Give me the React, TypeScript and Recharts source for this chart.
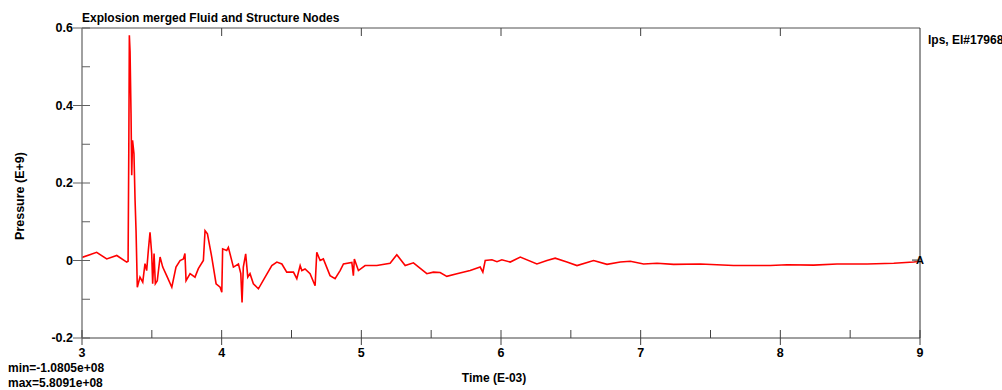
import React from 'react';
import { LineChart, Line, XAxis, YAxis, ReferenceDot } from 'recharts';

const titleText = 'Explosion merged Fluid and Structure Nodes';
const legendText = 'lps, El#17968';
const xLabel = 'Time (E-03)';
const yLabel = 'Pressure (E+9)';
const minText = 'min=-1.0805e+08';
const maxText = 'max=5.8091e+08';

const xTicks = [3, 3.5, 4, 4.5, 5, 5.5, 6, 6.5, 7, 7.5, 8, 8.5, 9];
const xTopTicks = [4, 5, 6, 7, 8];
const yTicks = [-0.2, -0.1, 0, 0.1, 0.2, 0.3, 0.4, 0.5, 0.6];

const time = [
  3.0, 3.105, 3.177, 3.249, 3.32, 3.33, 3.335, 3.339, 3.344, 3.351, 3.356, 3.362, 3.372, 3.38, 3.387, 3.396,
  3.415, 3.435, 3.451, 3.463, 3.475, 3.487, 3.499, 3.506, 3.516, 3.525, 3.539, 3.559, 3.578, 3.611, 3.643,
  3.673, 3.702, 3.726, 3.737, 3.745, 3.774, 3.809, 3.833, 3.869, 3.881, 3.898, 3.929, 3.96, 3.989, 4.001,
  4.007, 4.036, 4.048, 4.084, 4.12, 4.137, 4.146, 4.155, 4.172, 4.187, 4.203, 4.227, 4.263, 4.311, 4.359,
  4.395, 4.431, 4.466, 4.514, 4.538, 4.562, 4.574, 4.597, 4.633, 4.669, 4.681, 4.705, 4.728, 4.776, 4.812,
  4.848, 4.872, 4.932, 4.943, 4.95, 4.979, 5.027, 5.111, 5.206, 5.254, 5.314, 5.373, 5.469, 5.516, 5.564,
  5.612, 5.684, 5.779, 5.851, 5.87, 5.887, 5.935, 5.971, 6.006, 6.066, 6.138, 6.257, 6.329, 6.388, 6.472,
  6.544, 6.663, 6.759, 6.854, 6.926, 7.021, 7.117, 7.236, 7.427, 7.665, 7.928, 8.048, 8.238, 8.406, 8.621,
  8.812, 8.955, 9.0,
];

const pressure = [
  0.008, 0.021, 0.004, 0.013, -0.004, -0.002, 0.28, 0.581, 0.54, 0.38, 0.22, 0.31, 0.276, 0.155, 0.077, -0.069,
  -0.043, -0.056, -0.008, -0.026, 0.026, 0.073, 0.018, -0.06, 0.018, -0.06, -0.052, 0.009, -0.017, -0.043, -0.069,
  -0.017, 0.0, 0.004, 0.018, -0.052, -0.034, -0.043, -0.021, 0.0, 0.077, 0.069, 0.009, -0.06, -0.069, -0.082,
  0.03, 0.026, 0.034, -0.017, -0.009, -0.034, -0.108, -0.017, 0.017, -0.043, -0.034, -0.06, -0.073, -0.043, -0.013,
  -0.004, -0.009, -0.03, -0.03, -0.047, -0.013, -0.026, -0.022, -0.034, -0.065, 0.021, 0.0, 0.004, -0.039, -0.047,
  -0.026, -0.009, -0.005, -0.039, 0.004, -0.026, -0.013, -0.013, -0.007, 0.015, -0.013, -0.006, -0.034, -0.03, -0.031,
  -0.041, -0.034, -0.026, -0.017, -0.03, 0.0, 0.002, -0.003, 0.002, -0.004, 0.009, -0.009, 0.0, 0.006, -0.004,
  -0.013, 0.0, -0.01, -0.004, -0.002, -0.009, -0.007, -0.01, -0.009, -0.013, -0.013, -0.011, -0.012, -0.009, -0.009,
  -0.007, -0.004, -0.002,
];

const data = time.map((t, i) => ({ t, p: pressure[i] }));
const lastPoint = data[data.length - 1];

const FONT = '"Liberation Sans", Arial, sans-serif';

const BottomTick = (props: any) => {
  const { x, y, payload } = props;
  const v = payload.value;
  const major = Number.isInteger(v);
  return (
    <g>
      <line x1={x} x2={x} y1={y - 8} y2={major ? y + 7 : y} stroke="#404040" strokeWidth={1} />
      {major && (
        <text x={x} y={y + 19} textAnchor="middle" fontSize={12.5} fontWeight="bold" fontFamily={FONT} fill="#000">
          {v}
        </text>
      )}
    </g>
  );
};

const TopTick = (props: any) => {
  const { x, y } = props;
  return <line x1={x} x2={x} y1={y} y2={y + 8} stroke="#404040" strokeWidth={1} />;
};

const LeftTick = (props: any) => {
  const { x, y, payload } = props;
  const v = payload.value;
  const major = Math.abs(Math.round(v * 10)) % 2 === 0;
  const label = Math.abs(v) < 1e-9 ? '0' : v.toFixed(1);
  return (
    <g>
      <line x1={major ? x - 9 : x} x2={x + 8} y1={y} y2={y} stroke="#606060" strokeWidth={1} />
      {major && (
        <text x={x - 9} y={y + 4} textAnchor="end" fontSize={12.5} fontWeight="bold" fontFamily={FONT} fill="#000">
          {label}
        </text>
      )}
    </g>
  );
};

const EndMarker = (props: any) => {
  const { cx, cy } = props;
  return (
    <g>
      <line x1={cx - 8} x2={cx} y1={cy - 1} y2={cy - 1} stroke="#808080" strokeWidth={2} />
      <text x={cx} y={cy + 3} textAnchor="middle" fontSize={11} fontWeight="bold" fontFamily={FONT} fill="#000">
        A
      </text>
    </g>
  );
};

const textStyle: React.CSSProperties = {
  position: 'absolute',
  fontFamily: FONT,
  fontWeight: 'bold',
  fontSize: 12,
  lineHeight: '14px',
  whiteSpace: 'nowrap',
  color: '#000',
};

export default function App() {
  return (
    <div style={{ position: 'absolute', left: 0, top: 0, width: 1002, height: 390, overflow: 'hidden', background: '#fff' }}>
      <LineChart width={1002} height={390} data={data} margin={{ top: 27, right: 81, bottom: 51, left: 81 }}>
        <XAxis
          dataKey="t"
          type="number"
          domain={[3, 9]}
          ticks={xTicks}
          interval={0}
          height={1}
          tickSize={0}
          tickMargin={0}
          tickLine={false}
          axisLine={{ stroke: '#404040', strokeWidth: 1 }}
          tick={<BottomTick />}
          allowDataOverflow
        />
        <XAxis
          xAxisId="top"
          orientation="top"
          dataKey="t"
          type="number"
          domain={[3, 9]}
          ticks={xTopTicks}
          interval={0}
          height={1}
          tickSize={0}
          tickMargin={0}
          tickLine={false}
          axisLine={{ stroke: '#505050', strokeWidth: 1 }}
          tick={<TopTick />}
        />
        <YAxis
          type="number"
          domain={[-0.2, 0.6]}
          ticks={yTicks}
          interval={0}
          width={1}
          tickSize={0}
          tickMargin={0}
          tickLine={false}
          axisLine={{ stroke: '#808080', strokeWidth: 1.5 }}
          tick={<LeftTick />}
          allowDataOverflow
        />
        <YAxis
          yAxisId="right"
          orientation="right"
          type="number"
          domain={[-0.2, 0.6]}
          width={1}
          tick={false}
          tickLine={false}
          axisLine={{ stroke: '#303030', strokeWidth: 1 }}
        />
        <Line
          type="linear"
          dataKey="p"
          stroke="#ff0000"
          strokeWidth={1.6}
          dot={false}
          isAnimationActive={false}
        />
        <ReferenceDot x={lastPoint.t} y={lastPoint.p} r={0} shape={<EndMarker />} ifOverflow="visible" />
      </LineChart>
      <div style={{ ...textStyle, left: 82, top: 11 }}>{titleText}</div>
      <div style={{ ...textStyle, left: 928, top: 33 }}>{legendText}</div>
      <div style={{ ...textStyle, fontSize: 12.5, left: 20, top: 196, transform: 'translate(-50%, -50%) rotate(-90deg)' }}>{yLabel}</div>
      <div style={{ ...textStyle, left: 494, top: 378, transform: 'translate(-50%, -50%)' }}>{xLabel}</div>
      <div style={{ ...textStyle, left: 8, top: 361 }}>{minText}</div>
      <div style={{ ...textStyle, left: 8, top: 376 }}>{maxText}</div>
    </div>
  );
}
